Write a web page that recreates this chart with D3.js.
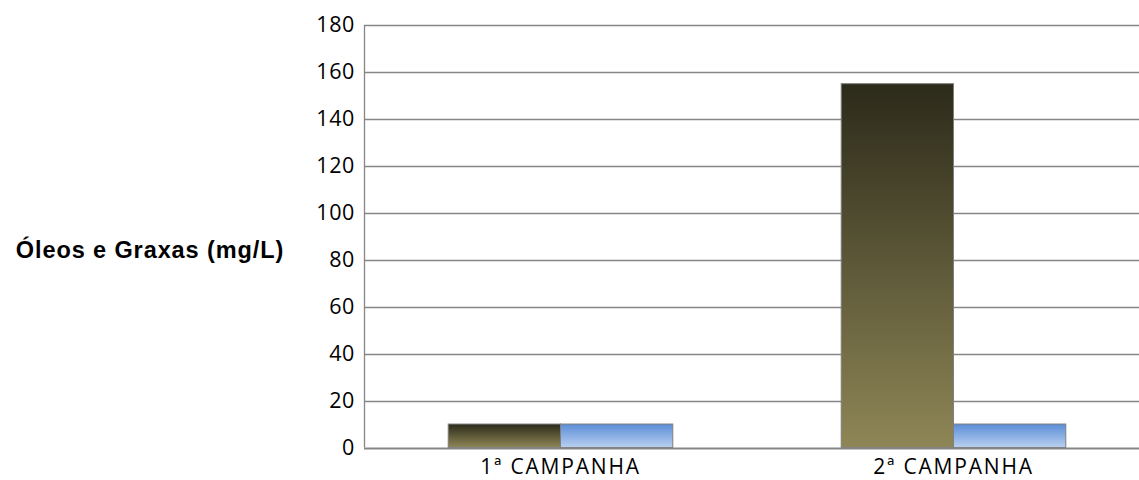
<!DOCTYPE html>
<html>
<head>
<meta charset="utf-8">
<script src="https://cdn.jsdelivr.net/npm/d3@7"></script>
<style>
  html, body { margin: 0; padding: 0; background: #fff; }
  svg { display: block; }
</style>
</head>
<body>
<svg id="chart" width="1139" height="480"></svg>
<script>
// Campaigns along the x axis
const categories = ["1ª CAMPANHA", "2ª CAMPANHA"];
// Two series per campaign
const seriesNames = ["Amostra", "Limite"];
const seriesA = [10, 155];
const seriesB = [10, 10];
// Y axis ticks
const yTicks = [0, 20, 40, 60, 80, 100, 120, 140, 160, 180];
const yTitle = "Óleos e Graxas (mg/L)";

const svg = d3.select("#chart");
const plotLeft = 364, plotTop = 25, plotBottom = 447.5, plotRight = 1150;

const x = d3.scaleBand().domain(categories).range([plotLeft, plotRight]).padding(0);
// Gap of 1.5 bar widths between groups: two bars fill 2/3.5 of each category
const gapFrac = 0.75 / 3.5;
const inner = d3.scaleBand().domain(seriesNames)
  .range([x.bandwidth() * gapFrac, x.bandwidth() * (1 - gapFrac)]).padding(0);
const y = d3.scaleLinear().domain([0, 180]).range([plotBottom, plotTop]);

const defs = svg.append("defs");
const gA = defs.append("linearGradient").attr("id", "gradA").attr("x1", 0).attr("y1", 0).attr("x2", 0).attr("y2", 1);
gA.append("stop").attr("offset", "0%").attr("stop-color", "#2c2a1a");
gA.append("stop").attr("offset", "100%").attr("stop-color", "#8e8656");
const gB = defs.append("linearGradient").attr("id", "gradB").attr("x1", 0).attr("y1", 0).attr("x2", 0).attr("y2", 1);
gB.append("stop").attr("offset", "0%").attr("stop-color", "#5a8dd8");
gB.append("stop").attr("offset", "100%").attr("stop-color", "#b9d0f0");

// Horizontal gridlines
svg.append("g").selectAll("line").data(yTicks.slice(1)).join("line")
  .attr("x1", plotLeft).attr("x2", plotRight)
  .attr("y1", d => Math.round(y(d)) + 0.5).attr("y2", d => Math.round(y(d)) + 0.5)
  .attr("stroke", "#868686").attr("stroke-width", 1.3);

// Bars
const fills = ["url(#gradA)", "url(#gradB)"];
categories.forEach((c, i) => {
  [seriesA[i], seriesB[i]].forEach((v, j) => {
    svg.append("rect")
      .attr("x", x(c) + inner(seriesNames[j]))
      .attr("y", y(v))
      .attr("width", inner.bandwidth())
      .attr("height", y(0) - y(v))
      .attr("fill", fills[j])
      .attr("stroke", "#7f7f7f")
      .attr("stroke-width", 1);
  });
});

// Axis lines
svg.append("line").attr("x1", plotLeft + 0.5).attr("x2", plotLeft + 0.5).attr("y1", plotTop).attr("y2", plotBottom)
  .attr("stroke", "#868686").attr("stroke-width", 1.3);
svg.append("line").attr("x1", plotLeft).attr("x2", plotRight)
  .attr("y1", Math.round(y(0)) + 0.5).attr("y2", Math.round(y(0)) + 0.5)
  .attr("stroke", "#868686").attr("stroke-width", 2);

// Y tick labels
const yAxis = d3.axisLeft(y).tickValues(yTicks).tickSize(0).tickPadding(9);
const ya = svg.append("g").attr("transform", `translate(${plotLeft},0)`).call(yAxis);
ya.select(".domain").remove();
ya.selectAll("text").attr("font-family", "'Open Sans', Lato, sans-serif").attr("font-size", 21.5)
  .attr("letter-spacing", 0.6).attr("fill", "#000");

// X category labels
const xAxis = d3.axisBottom(x).tickSize(0).tickPadding(12);
const xa = svg.append("g").attr("transform", `translate(0,${plotBottom})`).call(xAxis);
xa.select(".domain").remove();
xa.selectAll("text").attr("font-family", "'Open Sans', Lato, sans-serif").attr("font-size", 21)
  .attr("letter-spacing", 1.8).attr("fill", "#000");

// Y axis title
svg.append("text").attr("x", 150).attr("y", 258).attr("text-anchor", "middle")
  .attr("font-family", "'Liberation Sans', Arial, sans-serif").attr("font-weight", "bold")
  .attr("font-size", 23.5).attr("letter-spacing", 0.9).attr("fill", "#000").text(yTitle);
</script>
</body>
</html>
